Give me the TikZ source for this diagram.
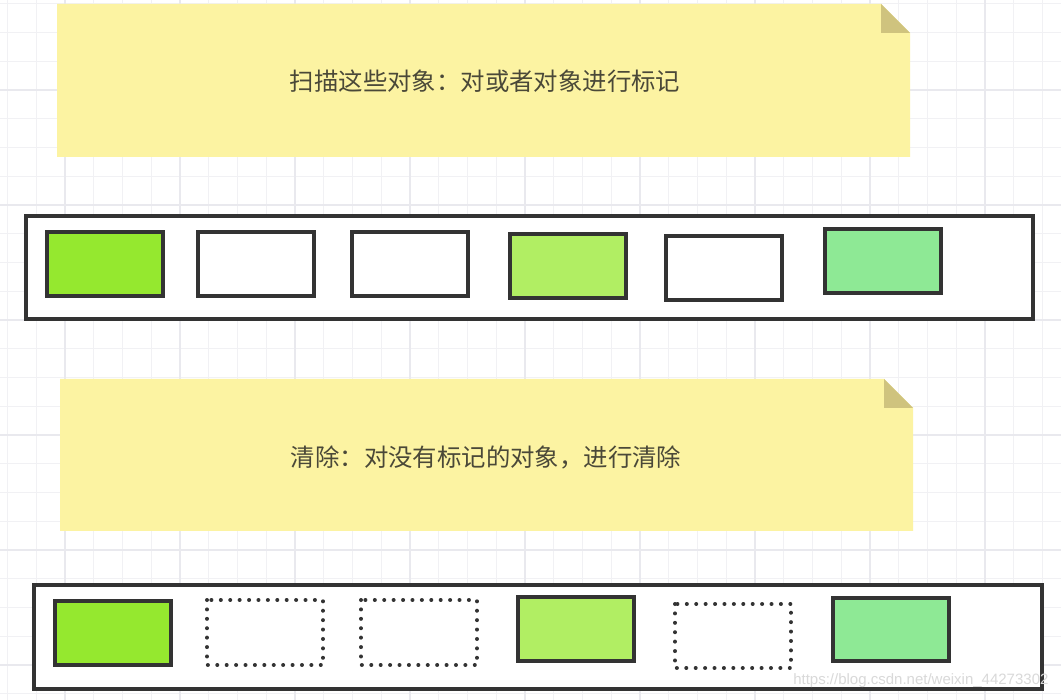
\documentclass[tikz,border=0pt]{standalone}
\usepackage{fontspec}
\newfontfamily\cjk{Noto Sans CJK SC}
\setmainfont{Liberation Sans}
\definecolor{gridminor}{HTML}{F1F1F4}
\definecolor{gridmajor}{HTML}{E9E9EE}
\definecolor{notefill}{HTML}{FCF3A2}
\definecolor{notefold}{HTML}{CFC37E}
\definecolor{frame}{HTML}{333333}
\definecolor{greenA}{HTML}{95E82F}
\definecolor{greenB}{HTML}{B1EE63}
\definecolor{greenC}{HTML}{8EE995}
\definecolor{txt}{HTML}{4A4838}
\tikzset{
  note/.style={fill=notefill, draw=none},
  fold/.style={fill=notefold, draw=none},
  container/.style={draw=frame, line width=3.6pt, fill=white},
  obj/.style={draw=frame, line width=3.2pt},
  freed/.style={draw=frame, line width=4pt, line cap=round, dash pattern=on 0.01pt off 9.4pt},
  label/.style={font=\cjk\fontsize{24.4}{28}\selectfont, text=txt},
}
\begin{document}
\begin{tikzpicture}[x=1pt,y=-1pt]
\useasboundingbox (0,0) rectangle (1061,700);
\fill[white] (0,0) rectangle (1061,700);
% grid
\foreach \i in {0,...,37} {
  \draw[gridminor, line width=1pt] ({7.5+28.75*\i},0) -- ({7.5+28.75*\i},700);
}
\foreach \j in {0,...,24} {
  \draw[gridminor, line width=1pt] (0,{3.75+28.75*\j}) -- (1061,{3.75+28.75*\j});
}
\foreach \i in {0,...,9} {
  \draw[gridmajor, line width=1.2pt] ({65+115*\i},0) -- ({65+115*\i},700);
}
\foreach \j in {0,...,6} {
  \draw[gridmajor, line width=1.2pt] (0,{90+115*\j-115}) -- (1061,{90+115*\j-115});
}
% note 1
\fill[note] (57,4) -- (881,4) -- (910,33) -- (910,157) -- (57,157) -- cycle;
\fill[fold] (881,4) -- (881,33) -- (910,33) -- cycle;
\node[label] (t1) at (485,81) {扫描这些对象：对或者对象进行标记};
% container 1
\draw[container] (26,216) rectangle (1033,319);
\draw[obj, fill=greenA] (47,232) rectangle (163,296);
\draw[obj, fill=white] (198,232) rectangle (314,296);
\draw[obj, fill=white] (352,232) rectangle (468,296);
\draw[obj, fill=greenB] (510,234) rectangle (626,298);
\draw[obj, fill=white] (666,236) rectangle (782,300);
\draw[obj, fill=greenC] (825,229) rectangle (941,293);
% note 2
\fill[note] (60,379) -- (884,379) -- (913,408) -- (913,531) -- (60,531) -- cycle;
\fill[fold] (884,379) -- (884,408) -- (913,408) -- cycle;
\node[label] (t2) at (486,457) {清除：对没有标记的对象，进行清除};
% container 2
\draw[container] (34,585) rectangle (1042,689);
\draw[obj, fill=greenA] (55,601) rectangle (171,665);
\draw[freed] (207,600) rectangle (323,665);
\draw[freed] (361,600) rectangle (477,665);
\draw[obj, fill=greenB] (518,597) rectangle (634,661);
\draw[freed] (675,604) rectangle (791,668);
\draw[obj, fill=greenC] (833,598) rectangle (949,661);
% watermark
\node[font=\fontsize{15}{18}\selectfont, text=black!15, anchor=east] (wm) at (1052,681) {https://blog.csdn.net/weixin\_44273302};
\end{tikzpicture}
\end{document}
